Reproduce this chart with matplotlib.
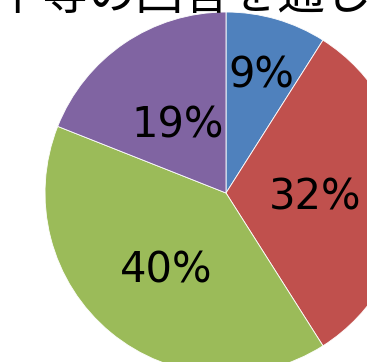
import matplotlib
matplotlib.use("Agg")
import matplotlib.pyplot as plt
import numpy as np

plt.rcParams['font.family'] = ['Noto Sans CJK JP', 'DejaVu Sans']

labels = ["9%", "32%", "40%", "19%"]
values = [9, 32, 40, 19]
colors = ["#4F81BD", "#C0504D", "#9BBB59", "#8064A2"]
title = "下等の回答を通じ"
label_r = [0.70, 0.49, 0.52, 0.48]

W, H = 367, 362
fig = plt.figure(figsize=(W/100, H/100), dpi=100)
cx, cy, R = 226, 193, 181
ax = fig.add_axes([(cx-R)/W, (H-cy-R)/H, 2*R/W, 2*R/H])

wedges, _ = ax.pie(values, colors=colors, startangle=90, counterclock=False,
                   radius=1, wedgeprops=dict(edgecolor='white', linewidth=0.6))
ax.set_xlim(-1, 1); ax.set_ylim(-1, 1)
ax.set_aspect('equal')
ax.axis('off')
for w in wedges:
    w.set_clip_on(False)

total = sum(values)
ang = 90.0
for lab, v, r in zip(labels, values, label_r):
    mid = ang - v/total*360/2
    ang -= v/total*360
    ax.text(r*np.cos(np.radians(mid)), r*np.sin(np.radians(mid)), lab,
            ha='center', va='center_baseline', fontsize=30, color='black',
            family='DejaVu Sans')

fig.text(183/W, 1 - 9/H, title, ha='center', va='baseline', fontsize=34, color='black')

fig.savefig("out.png", dpi=100)
